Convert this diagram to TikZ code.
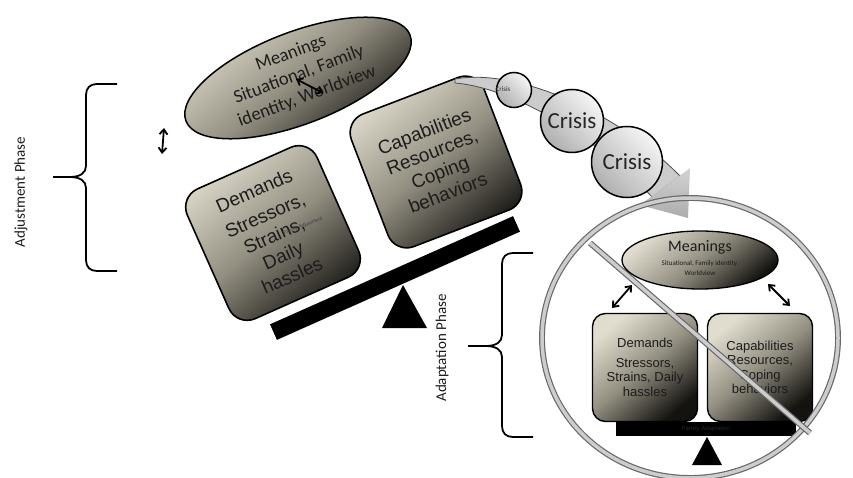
\documentclass[tikz,border=0pt]{standalone}
\usepackage{fontspec}
\setmainfont{Carlito}
\newfontfamily\arialf{Liberation Sans}
\usetikzlibrary{arrows.meta,shapes.geometric}
\definecolor{tanL}{RGB}{224,220,206}
\definecolor{tanM}{RGB}{146,142,128}
\definecolor{tanD}{RGB}{20,19,16}
\definecolor{txt}{RGB}{28,28,28}
\definecolor{ringD}{RGB}{105,105,105}
\definecolor{ringL}{RGB}{205,205,205}
\definecolor{beamtxt}{RGB}{38,38,38}
\tikzset{
  tanshade/.style={top color=tanL, bottom color=tanD, middle color=tanM, shading angle=40},
  bigbox/.style={draw=black, line width=1.6pt, rounded corners=20pt, minimum width=142pt, minimum height=142pt, tanshade, align=center, text=txt, inner sep=0pt, font=\arialf\fontsize{19}{22}\selectfont},
  smallbox/.style={draw=black, line width=1.4pt, rounded corners=13pt, minimum width=105pt, minimum height=108pt, tanshade, align=center, text=txt, inner sep=0pt, font=\arialf\fontsize{13}{14.5}\selectfont},
  meanell/.style={ellipse, draw=black, line width=1.5pt, tanshade, inner sep=0pt},
  dblarrow/.style={{Straight Barb[length=5pt,width=8pt]}-{Straight Barb[length=5pt,width=8pt]}, line width=1.8pt, black},
  bracestyle/.style={draw=black, line width=1.8pt},
  crisisball/.style={circle, draw=black, line width=1.5pt, top color=gray!8, bottom color=gray!62, shading angle=-45, inner sep=0pt, text=black!85},
  ringline/.style={draw=ringD, line width=1.2pt, double=ringL, double distance=3.5pt},
  phase/.style={font=\fontsize{15}{18}\selectfont, text=txt, rotate=90},
  shaft/.style={draw=black!70, line width=0.8pt, fill=gray!40},
}
\begin{document}
\begin{tikzpicture}[x=1pt,y=-1pt]
\useasboundingbox (0,0) rectangle (853,478);

% ---- left brace and label
\draw[bracestyle] (117,84) -- (97,84) .. controls (90,84) and (86,88) .. (86,95) -- (86,166)
  .. controls (86,173) and (80,177) .. (70,177) -- (53,177) -- (70,177)
  .. controls (80,177) and (86,181) .. (86,188) -- (86,260)
  .. controls (86,267) and (90,271) .. (97,271) -- (117,271);
\node[phase] (adj) at (21,192) {Adjustment Phase};

% ---- right brace and label
\draw[bracestyle] (533,253) -- (513,253) .. controls (506,253) and (502,257) .. (502,264) -- (502,335)
  .. controls (502,342) and (496,346) .. (486,346) -- (468,346) -- (486,346)
  .. controls (496,346) and (502,350) .. (502,357) -- (502,426)
  .. controls (502,433) and (506,437) .. (513,437) -- (533,437);
\node[phase] (ada) at (442,348) {Adaptation Phase};

% ---- small vertical double arrow
\coordinate (va1) at (164,128);
\coordinate (va2) at (162,154);
\draw[dblarrow] (va1) -- (va2);

% ---- top-left meanings ellipse
\node[meanell, rotate=21, minimum width=240pt, minimum height=92pt] (mean1) at (298,78) {};
\node[rotate=20.5, align=center, font=\fontsize{18.5}{23}\selectfont, text=txt] (mean1t) at (299,75) {Meanings\\Situational, Family\\identity, Worldview};
\coordinate (ma1) at (296,79);
\coordinate (ma2) at (323,93);
\draw[dblarrow] (ma1) -- (ma2);

% ---- tilted beam and fulcrum
\node[fill=black, rotate=24, minimum width=266pt, minimum height=17pt, inner sep=0pt] (beam1) at (395,278) {};
\fill[black] (403,285) -- (427,328) -- (382,328) -- cycle;

% ---- tilted boxes
\node[bigbox, rotate=24] (dem1) at (273,233) {Demands\\[5pt]Stressors,\\Strains,\\Daily\\hassles};
\node[rotate=20, font=\arialf\fontsize{5}{6}\selectfont, text=black!75] (famadj) at (303,226) {Family Adjustment};
\node[bigbox, rotate=21] (cap1) at (436,162) {Capabilities\\Resources,\\Coping\\behaviors};

% ---- crisis arrow
\draw[shaft] (455,79) .. controls (515,68) and (615,110) .. (680,176) -- (652,197)
  .. controls (600,140) and (515,88) .. (455,83) -- cycle;
\shade[top color=gray!35, bottom color=gray!65] (640,205) -- (690,168) -- (688,218) -- cycle;
\node[crisisball, minimum size=35pt] (cr1) at (514,90) {};
\node[font=\fontsize{7}{8}\selectfont, text=black!80] (cr1t) at (503,89) {Crisis};
\node[crisisball, minimum size=63pt, font=\fontsize{23}{26}\selectfont] (cr2) at (572,121) {Crisis};
\node[crisisball, minimum size=71pt, font=\fontsize{23}{26}\selectfont] (cr3) at (627,162) {Crisis};

% ---- inner balance
\fill[black] (616,422) rectangle (796,436);
\node[font=\arialf\fontsize{6}{7}\selectfont, text=beamtxt] (famada) at (706,429) {Family Adaptation};
\fill[black] (707,437) -- (722,465) -- (692,465) -- cycle;
\node[smallbox] (dem2) at (645,367.5) {Demands\\[5pt]Stressors,\\Strains, Daily\\hassles};
\node[smallbox] (cap2) at (760,367.5) {Capabilities\\Resources,\\Coping\\behaviors};

% ---- prohibition ring
\draw[ringline] (690,338) ellipse [x radius=148, y radius=140];
\draw[ringline] (590,243) -- (810,433);

% ---- inner meanings ellipse
\node[meanell, line width=1.3pt, minimum width=156pt, minimum height=58pt] (mean2) at (700,260) {};
\node[font=\fontsize{16}{18}\selectfont, text=txt] (mean2a) at (700,247) {Meanings};
\node[align=center, font=\fontsize{7}{10}\selectfont, text=txt] (mean2b) at (700,268) {Situational, Family identity,\\Worldview};
\coordinate (ia1) at (632,285);
\coordinate (ia2) at (612,308);
\coordinate (ib1) at (768,284);
\coordinate (ib2) at (790,306);
\draw[dblarrow] (ia1) -- (ia2);
\draw[dblarrow] (ib1) -- (ib2);
\end{tikzpicture}
\end{document}
